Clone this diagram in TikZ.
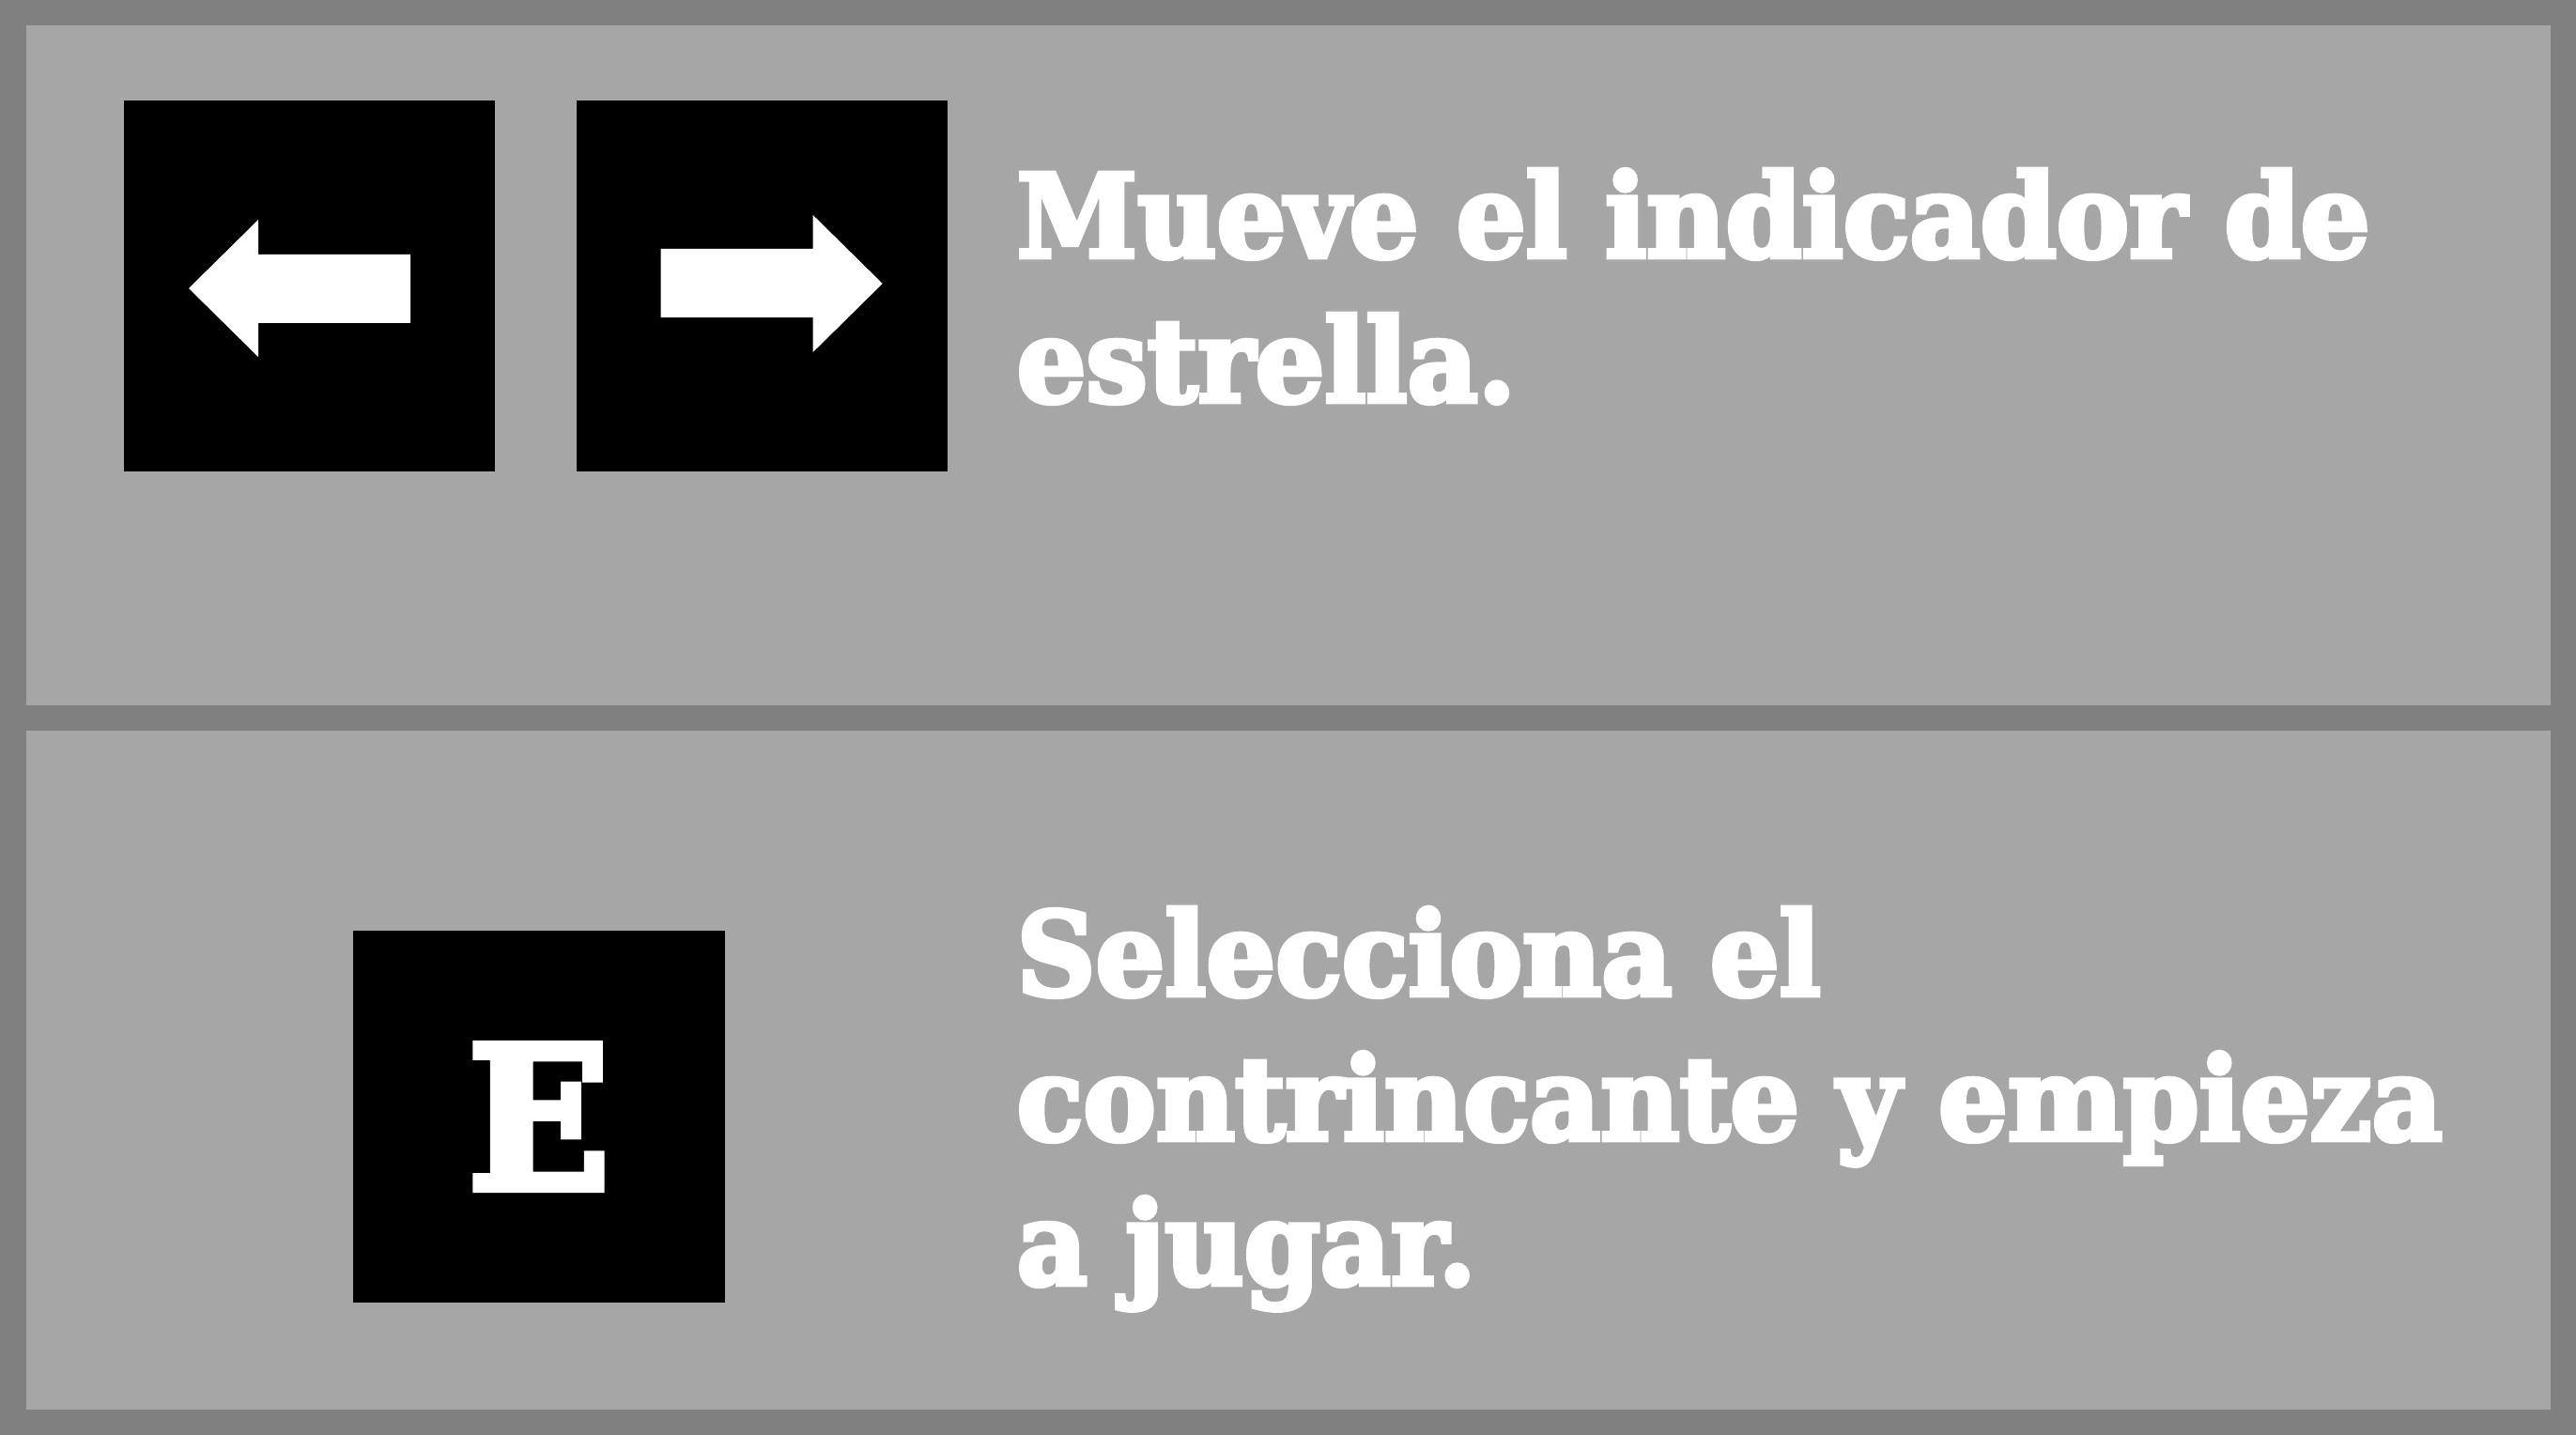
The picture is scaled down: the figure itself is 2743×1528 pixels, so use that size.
\documentclass[tikz,border=0pt]{standalone}
\usepackage{fontspec}
\setmainfont{DejaVu Serif}
\newfontfamily\hintfont{DejaVu Serif}[FakeStretch=0.94,FakeBold=4]
\usetikzlibrary{positioning}

\definecolor{frame}{HTML}{808080}
\definecolor{panel}{HTML}{A6A6A6}

\begin{document}
\begin{tikzpicture}[x=0.01cm,y=-0.01cm,node distance=0.85cm,
  key node/.style={fill=black,inner sep=0pt,minimum size=3.95cm,
  text=white,font=\hintfont\bfseries\fontsize{60}{60}\selectfont},
  hint node/.style={anchor=base west,align=left,inner sep=0pt,
  text=white,font=\hintfont\bfseries\fontsize{35.1}{43.8}\selectfont}]

  \useasboundingbox (0,0) rectangle (2743,1528);
  \fill[frame] (0,0) rectangle (2743,1528);
  \fill[panel] (27.5,27.5) rectangle (2715.5,751);
  \fill[panel] (27.5,778) rectangle (2715.5,1500.5);

  \node[key node] (left) at (329.5,304.5) {};
  \node[key node] (right) [right=of left] {};
  \node[key node] (e) at (574,1189) {E};

  % arrow drawn pointing right, turned round for the left key
  \foreach \k/\r in {right/0,left/180}
    \fill[white,shift={(\k.center)},rotate=\r]
      (-107.5,-39.5) -- (54.5,-39.5) -- (54.5,-75.5) -- (128.5,-2.5)
      -- (54.5,70.5) -- (54.5,33.5) -- (-107.5,33.5) -- cycle;

  % base anchor sits on the last line
  \node[hint node] (move) at (1082,428)
    {Mueve el indicador de\\estrella.};
  \node[hint node] (select) at (1082,1368)
    {Selecciona el\\contrincante y empieza\\a jugar.};
\end{tikzpicture}
\end{document}
